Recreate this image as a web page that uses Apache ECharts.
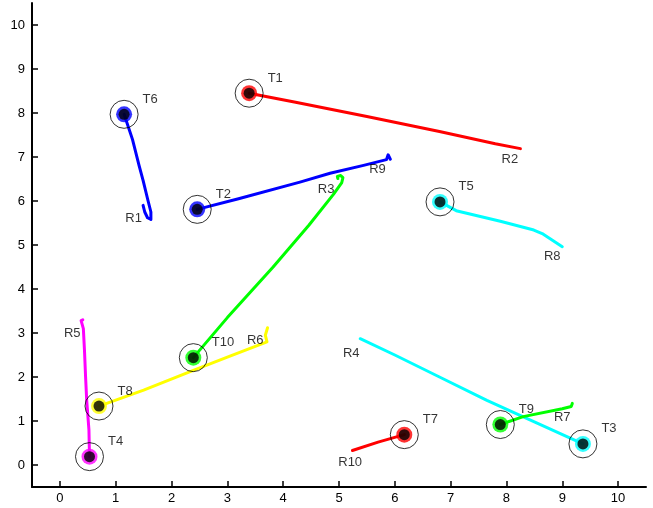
<!DOCTYPE html>
<html>
<head>
<meta charset="utf-8">
<script src="https://cdn.jsdelivr.net/npm/echarts@6/dist/echarts.min.js"></script>
<style>
  html, body { margin: 0; padding: 0; background: #fff; }
  #chart { width: 653px; height: 508px; }
</style>
</head>
<body>
<div id="chart"></div>
<script>
// 刻度
const tickValues = [0, 1, 2, 3, 4, 5, 6, 7, 8, 9, 10];

// 目标点 T1..T10
const targetNames = ['T1', 'T2', 'T3', 'T4', 'T5', 'T6', 'T7', 'T8', 'T9', 'T10'];
const targetX = [3.39, 2.46, 9.37, 0.53, 6.81, 1.15, 6.17, 0.70, 7.89, 2.39];
const targetY = [8.45, 5.81, 0.48, 0.19, 5.98, 7.97, 0.69, 1.34, 0.92, 2.44];

// 机器人轨迹 (x, y)
const pathR1 = [[1.15, 7.97], [1.30, 7.40], [1.42, 6.80], [1.49, 6.47], [1.58, 6.00], [1.63, 5.75], [1.63, 5.58], [1.57, 5.62], [1.52, 5.75], [1.49, 5.90]];
const pathR2 = [[3.39, 8.45], [4.20, 8.25], [5.50, 7.92], [6.80, 7.58], [7.80, 7.30], [8.25, 7.19]];
const pathR3 = [[2.39, 2.44], [3.00, 3.35], [3.82, 4.50], [4.46, 5.45], [4.90, 6.15], [5.05, 6.42], [5.07, 6.53], [5.03, 6.58], [4.97, 6.56], [4.98, 6.51]];
const pathR4 = [[9.37, 0.48], [8.50, 0.98], [7.65, 1.47], [6.80, 2.00], [6.00, 2.50], [5.38, 2.87]];
const pathR5 = [[0.53, 0.19], [0.52, 0.80], [0.48, 1.47], [0.46, 2.00], [0.44, 2.61], [0.42, 3.10], [0.38, 3.28], [0.41, 3.30]];
const pathR6 = [[0.70, 1.34], [1.50, 1.70], [2.39, 2.15], [3.00, 2.45], [3.71, 2.80], [3.68, 2.95], [3.72, 3.12]];
const pathR7 = [[7.89, 0.92], [8.30, 1.10], [9.00, 1.28], [9.16, 1.33], [9.18, 1.40]];
const pathR8 = [[6.81, 5.98], [7.10, 5.78], [7.89, 5.54], [8.49, 5.34], [8.64, 5.26], [9.00, 4.96]];
const pathR9 = [[2.46, 5.81], [3.20, 6.05], [4.30, 6.43], [4.84, 6.63], [5.44, 6.81], [5.85, 6.94], [5.88, 7.05], [5.92, 6.95]];
const pathR10 = [[6.17, 0.69], [5.70, 0.52], [5.24, 0.33]];

// R 标签位置
const robotNames = ['R1', 'R2', 'R3', 'R4', 'R5', 'R6', 'R7', 'R8', 'R9', 'R10'];
const robotLabelX = [1.32, 8.06, 4.77, 5.22, 0.22, 3.50, 9.00, 8.82, 5.69, 5.20];
const robotLabelY = [5.60, 6.94, 6.26, 2.54, 2.99, 2.83, 1.09, 4.73, 6.72, 0.06];

// 颜色
const RED = '#ff0000', BLUE = '#0000ff', GREEN = '#00ff00', CYAN = '#00ffff', MAGENTA = '#ff00ff', YELLOW = '#ffff00';
const targetColors = [RED, BLUE, CYAN, MAGENTA, CYAN, BLUE, RED, YELLOW, GREEN, GREEN];
const paths = [
  { data: pathR1, color: BLUE },
  { data: pathR2, color: RED },
  { data: pathR3, color: GREEN },
  { data: pathR4, color: CYAN },
  { data: pathR5, color: MAGENTA },
  { data: pathR6, color: YELLOW },
  { data: pathR7, color: GREEN },
  { data: pathR8, color: CYAN },
  { data: pathR9, color: BLUE },
  { data: pathR10, color: RED }
];

const FONT = '"Liberation Sans", Arial, sans-serif';

const targets = targetNames.map((n, i) => ({ name: n, value: [targetX[i], targetY[i]] }));

const series = [];
paths.forEach(p => {
  series.push({
    type: 'line',
    data: p.data,
    showSymbol: false,
    silent: true,
    z: 2,
    lineStyle: { color: p.color, width: 3, cap: 'round', join: 'round' }
  });
});
// 彩色底点
series.push({
  type: 'scatter',
  z: 3,
  symbolSize: 16,
  data: targets.map((t, i) => ({ value: t.value, itemStyle: { color: targetColors[i] } }))
});
// 黑色实心点
series.push({
  type: 'scatter',
  z: 4,
  symbolSize: 11,
  itemStyle: { color: '#000' },
  data: targets.map(t => t.value)
});
// 外圈 + T 标签
series.push({
  type: 'scatter',
  z: 5,
  symbolSize: 28,
  itemStyle: { color: 'rgba(0,0,0,0)', borderColor: '#000', borderWidth: 1 },
  label: {
    show: true,
    position: 'right',
    distance: 4,
    offset: [0, -15],
    formatter: '{b}',
    color: '#000',
    fontSize: 13,
    fontFamily: FONT
  },
  data: targets
});
// R 标签
series.push({
  type: 'scatter',
  z: 6,
  symbolSize: 0,
  label: {
    show: true,
    position: 'inside',
    formatter: '{b}',
    color: '#000',
    fontSize: 13,
    fontFamily: FONT
  },
  data: robotNames.map((n, i) => ({ name: n, value: [robotLabelX[i], robotLabelY[i]] }))
});

const axisCommon = {
  type: 'value',
  min: -0.5,
  max: 10.5,
  splitLine: { show: false },
  axisLine: { show: true, onZero: false, lineStyle: { color: '#000', width: 2 } },
  axisTick: { show: true, inside: true, length: 6, customValues: tickValues, lineStyle: { color: '#000', width: 1.5 } },
  axisLabel: { customValues: tickValues, color: '#000', fontSize: 13, fontFamily: FONT }
};

const chart = echarts.init(document.getElementById('chart'));
chart.setOption({
  animation: false,
  backgroundColor: '#fff',
  grid: { left: 32, top: 3, width: 614, height: 484 },
  xAxis: Object.assign({}, axisCommon, { axisLabel: Object.assign({}, axisCommon.axisLabel, { margin: 5 }) }),
  yAxis: Object.assign({}, axisCommon, { axisLabel: Object.assign({}, axisCommon.axisLabel, { margin: 7 }) }),
  series: series
});
</script>
</body>
</html>
